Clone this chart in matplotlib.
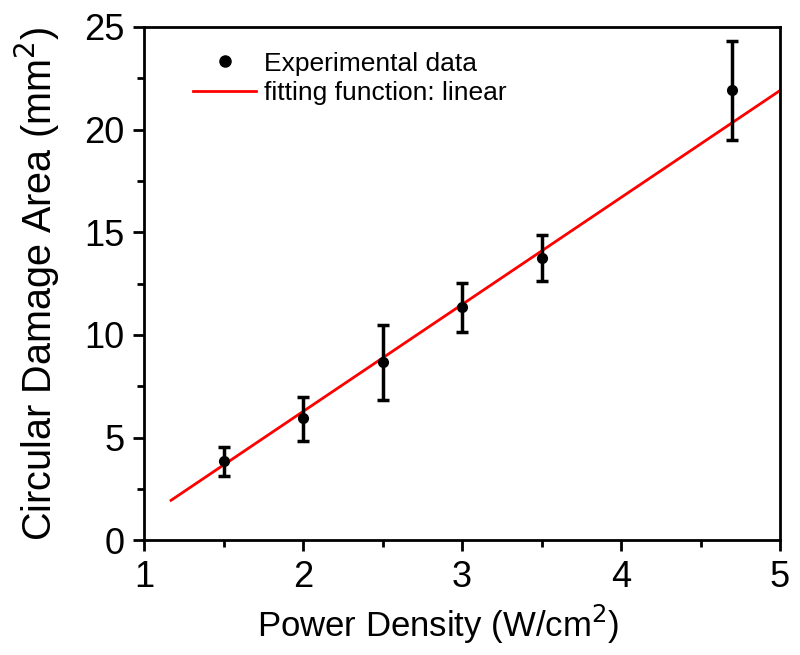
import matplotlib.pyplot as plt
from matplotlib.lines import Line2D
from matplotlib.ticker import MultipleLocator

plt.rcParams['font.family'] = ['Liberation Sans', 'DejaVu Sans']

# experimental points
power = [1.5, 2.0, 2.5, 3.0, 3.5, 4.7]
area = [3.85, 5.95, 8.7, 11.35, 13.75, 21.95]
err_low = [0.72, 1.1, 1.85, 1.2, 1.1, 2.45]
err_high = [0.68, 1.02, 1.8, 1.2, 1.1, 2.35]

# linear fit line ends
fit_x = [1.17, 5.0]
fit_y = [1.95, 21.9]

fig = plt.figure(figsize=(8, 6.55), dpi=100)
ax = fig.add_axes([0.18, 0.175, 0.795, 0.784])

ax.plot(fit_x, fit_y, c='#ff0000', lw=2, zorder=2)
ax.errorbar(power, area, yerr=[err_low, err_high], fmt='o', c='black', ms=7,
            elinewidth=2.5, capsize=4.5, capthick=2.5, zorder=3)

ax.set_xlim(1, 5)
ax.set_ylim(0, 25)
ax.xaxis.set_major_locator(MultipleLocator(1))
ax.xaxis.set_minor_locator(MultipleLocator(0.5))
ax.yaxis.set_major_locator(MultipleLocator(5))
ax.yaxis.set_minor_locator(MultipleLocator(2.5))
ax.tick_params(which='major', direction='out', length=8, width=2, labelsize=26, pad=6)
ax.tick_params(which='minor', direction='out', length=5, width=2)
for s in ax.spines.values():
    s.set_linewidth(2)

ax.set_xlabel('Power Density (W/cm$^2$)', fontsize=25, labelpad=6)
ax.xaxis.label.set_x(0.462)
ax.set_ylabel('Circular Damage Area (mm$^2$)', fontsize=28.5, labelpad=16)

# legend: dot only for the data, red line for the fit
handles = [Line2D([], [], ls='none', marker='o', c='black', ms=8),
           Line2D([], [], c='#ff0000', lw=2)]
labels = ['Experimental data', 'fitting function: linear']
ax.legend(handles, labels, loc='upper left', bbox_to_anchor=(0.077, 0.952),
          frameon=False, fontsize=19, handlelength=2.4, handletextpad=0.3,
          labelspacing=0.2, borderpad=0, borderaxespad=0)

fig.savefig('out.png')
